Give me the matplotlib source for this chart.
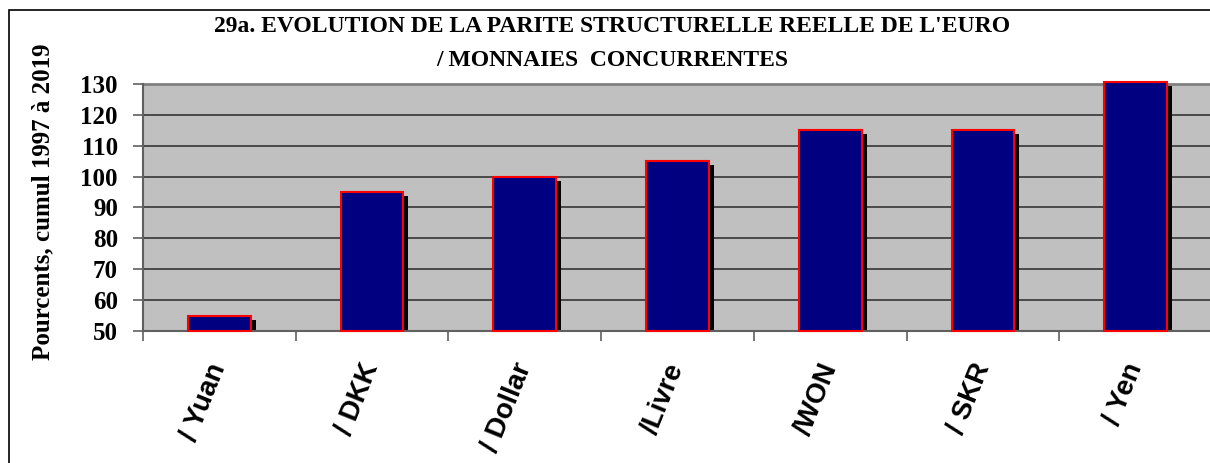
import numpy as np
import matplotlib.pyplot as plt
import matplotlib.transforms as mtransforms
from matplotlib.patches import Rectangle

# valeurs
devises = ["/ Yuan", "/ DKK", "/ Dollar", "/Livre", "/WON", "/ SKR", "/ Yen"]
parite = [55, 95, 100, 105, 115, 115, 130.5]
y_ticks = [50, 60, 70, 80, 90, 100, 110, 120, 130]

W, H = 1210, 463
fig = plt.figure(figsize=(W / 100, H / 100), dpi=100)

# cadre du graphique
fig.patches.append(Rectangle((9 / W, -0.1), 1.2, 1 - 10 / H + 0.1,
                             transform=fig.transFigure, fill=False,
                             edgecolor="black", linewidth=1.2))

ax = fig.add_axes([143 / W, 1 - 331 / H, (1212 - 143) / W, (331 - 84) / H])
ax.set_facecolor("#c0c0c0")

x = np.arange(len(devises))
w = 0.41
vals = np.array(parite)

# ombre portee (decalee de 5 px a droite, 4 px vers le bas)
ombre = mtransforms.offset_copy(ax.transData, fig=fig, x=5, y=-4, units="dots")
d = 4 / 247 * 80
ax.bar(x, vals - 50 - d, w, bottom=50 + d, color="black",
       transform=ombre, zorder=2, clip_on=False)
ax.bar(x, vals - 50, w, bottom=50, color="#000080",
       edgecolor="#ff0000", linewidth=1.5, zorder=3, clip_on=False)

ax.set_ylim(50, 130)
ax.set_xlim(-0.5, 6.5)
ax.set_yticks(y_ticks)
ax.set_yticklabels([str(v) for v in y_ticks], family="Liberation Serif",
                   fontweight="bold", fontsize=18)
ax.yaxis.grid(True, color="#404040", linewidth=1.3, zorder=1)
ax.set_axisbelow(True)

ax.set_xticks(np.arange(-0.5, 7, 1))
ax.set_xticklabels([])
ax.set_xticks(x, minor=True)
ax.set_xticklabels(devises, minor=True, rotation=68, ha="right", va="center",
                   rotation_mode="anchor",
                   family="Liberation Sans", fontweight="bold", fontsize=20)
ax.tick_params(axis="x", which="minor", length=0, pad=24)
ax.tick_params(axis="x", which="major", length=7, color="#606060", width=1.2)
ax.tick_params(axis="y", length=7, color="#606060", width=1.2, pad=11)

for s in ["top", "right"]:
    ax.spines[s].set_visible(False)
ax.spines["left"].set_color("#606060")
ax.spines["left"].set_linewidth(1.5)
ax.spines["bottom"].set_color("#606060")
ax.spines["bottom"].set_linewidth(1.5)
ax.axhline(130, color="#808080", linewidth=2, zorder=1, clip_on=False)

ax.set_ylabel("Pourcents, cumul 1997 à 2019", family="Liberation Serif",
              fontweight="bold", fontsize=18)
ax.yaxis.set_label_coords(54 / W, 1 - 202 / H, transform=fig.transFigure)

fig.text(612 / W, 1 - 27 / H, "29a. EVOLUTION DE LA PARITE STRUCTURELLE REELLE DE L'EURO",
         ha="center", va="center", family="Liberation Serif",
         fontweight="bold", fontsize=17)
fig.text(612 / W, 1 - 60 / H, "/ MONNAIES  CONCURRENTES",
         ha="center", va="center", family="Liberation Serif",
         fontweight="bold", fontsize=17)

fig.savefig("out.png", dpi=100)
